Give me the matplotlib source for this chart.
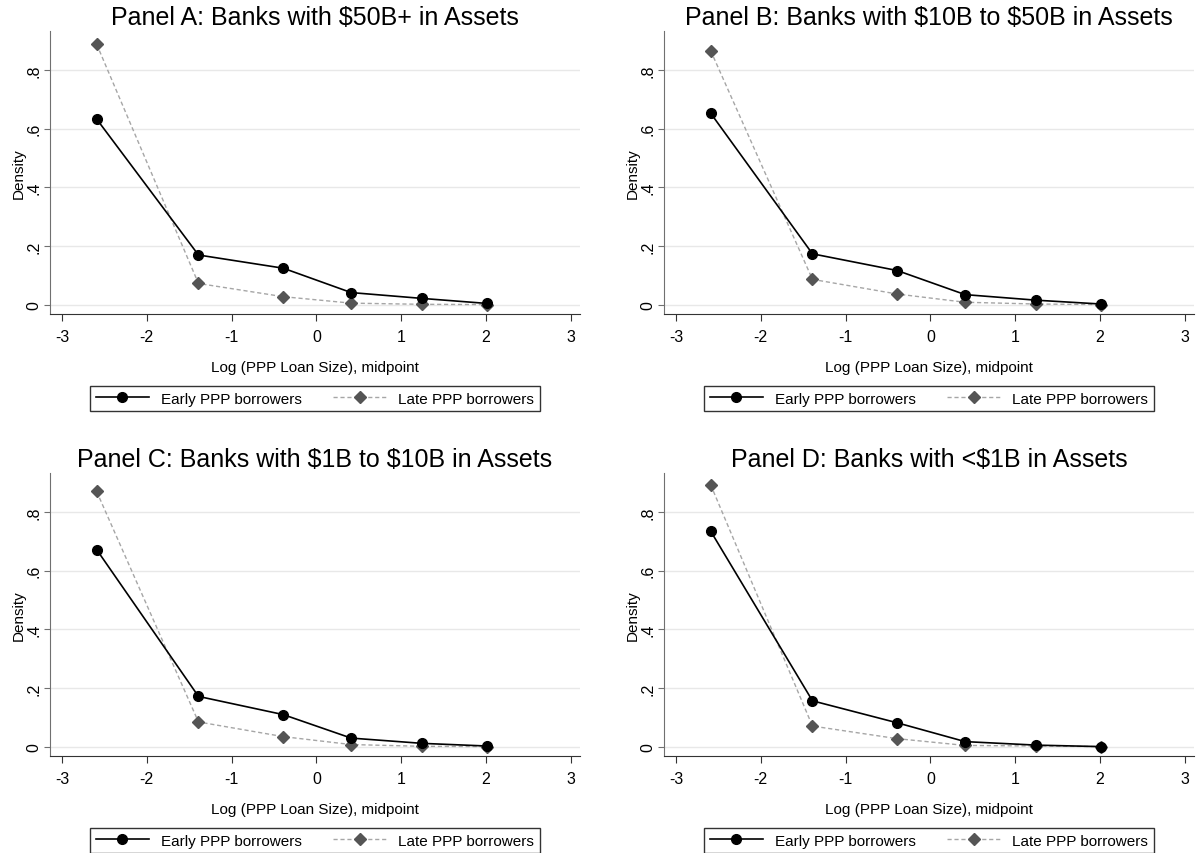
import matplotlib as mpl; mpl.use("Agg")
import matplotlib.pyplot as plt
from matplotlib.ticker import FixedLocator

plt.rcParams["font.family"] = ["Liberation Sans", "DejaVu Sans"]

# log loan size midpoints
x_mid = [-2.59, -1.39, -0.39, 0.41, 1.25, 2.01]

titles = [
    "Panel A: Banks with \\$50B+ in Assets",
    "Panel B: Banks with \\$10B to \\$50B in Assets",
    "Panel C: Banks with \\$1B to \\$10B in Assets",
    "Panel D: Banks with <\\$1B in Assets",
]
early = [
    [0.633, 0.170, 0.125, 0.042, 0.022, 0.005],
    [0.653, 0.174, 0.117, 0.035, 0.016, 0.003],
    [0.672, 0.172, 0.110, 0.030, 0.012, 0.003],
    [0.735, 0.157, 0.082, 0.018, 0.006, 0.001],
]
late = [
    [0.888, 0.073, 0.028, 0.006, 0.002, 0.001],
    [0.866, 0.087, 0.037, 0.009, 0.003, 0.001],
    [0.870, 0.085, 0.035, 0.008, 0.002, 0.001],
    [0.893, 0.071, 0.028, 0.005, 0.003, 0.001],
]
x_ticks = [-3, -2, -1, 0, 1, 2, 3]
y_ticks = [0, 0.2, 0.4, 0.6, 0.8]
y_ticklabels = ["0", ".2", ".4", ".6", ".8"]

W, H = 1196, 854
fig = plt.figure(figsize=(W / 100, H / 100), dpi=100)

# axes boxes in pixels: left, top, right, bottom
boxes = [
    (50, 32, 580, 315),
    (664, 32, 1194, 315),
    (50, 474, 580, 757),
    (664, 474, 1194, 757),
]

for i, (l, t, r, b) in enumerate(boxes):
    ax = fig.add_axes([l / W, 1 - b / H, (r - l) / W, (b - t) / H])
    ax.plot(x_mid, late[i], color="#a6a6a6", ls=(0, (3, 2)), lw=1.0,
            marker="D", ms=6.5, mfc="#555555", mec="#555555",
            label="Late PPP borrowers", zorder=2)
    ax.plot(x_mid, early[i], color="black", lw=1.2,
            marker="o", ms=7, mfc="black", mec="black",
            label="Early PPP borrowers", zorder=3)
    ax.set_xlim(-3.14, 3.108)
    ax.set_ylim(-0.031, 0.933)
    ax.xaxis.set_major_locator(FixedLocator(x_ticks))
    ax.set_xticklabels([str(v) for v in x_ticks], fontsize=11.5)
    ax.set_yticks(y_ticks)
    ax.set_yticklabels(y_ticklabels, fontsize=11.5, rotation=90, va="center")
    ax.grid(axis="y", color="#e8e8e8", lw=1.0)
    ax.set_axisbelow(True)
    for s in ["top", "right"]:
        ax.spines[s].set_visible(False)
    ax.spines["left"].set_color("#707070")
    ax.spines["bottom"].set_color("#333333")
    ax.tick_params(axis="x", length=5, color="#333333", pad=6)
    ax.tick_params(axis="y", length=4, color="#707070", pad=2)
    ax.set_title(titles[i], fontsize=18, pad=5)
    ax.set_ylabel("Density", fontsize=11, labelpad=1)
    ax.set_xlabel("Log (PPP Loan Size), midpoint", fontsize=11, labelpad=11)
    h, lab = ax.get_legend_handles_labels()
    leg = ax.legend(h[::-1], lab[::-1], ncol=2, loc="upper center",
                    bbox_to_anchor=(0.5, -0.228), fontsize=11,
                    frameon=True, fancybox=False, edgecolor="black",
                    handlelength=3.5, columnspacing=2.0, borderpad=0.35)
    leg.get_frame().set_linewidth(1.0)

fig.savefig("out.png", dpi=100, facecolor="white")
